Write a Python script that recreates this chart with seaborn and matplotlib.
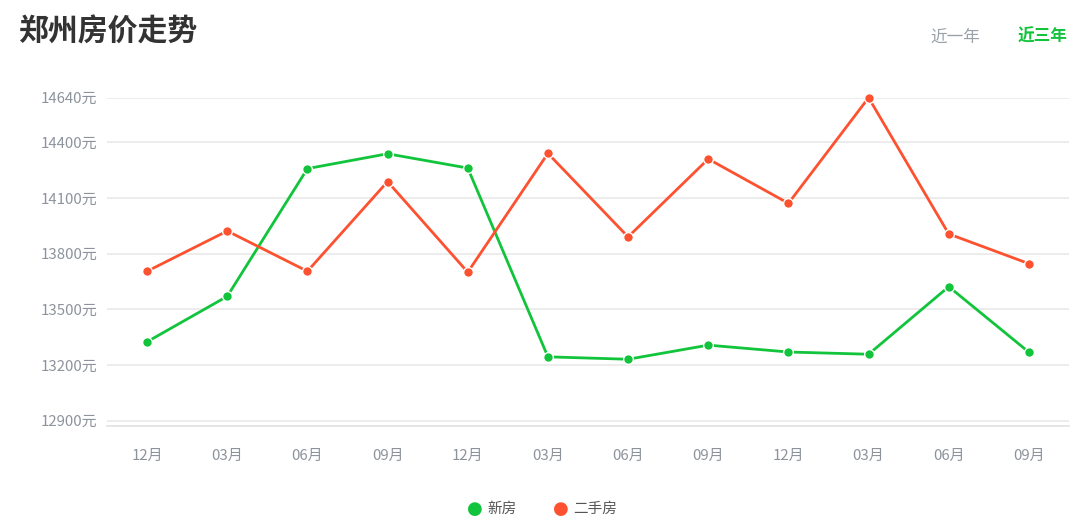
import matplotlib
matplotlib.use("Agg")
import matplotlib.pyplot as plt
import seaborn as sns
import pandas as pd

months = ["12月", "03月", "06月", "09月", "12月", "03月", "06月", "09月", "12月", "03月", "06月", "09月"]
new_house = [13325, 13570, 14258, 14338, 14261, 13244, 13231, 13307, 13270, 13258, 13622, 13269]
second_house = [13705, 13922, 13705, 14188, 13700, 14340, 13890, 14310, 14071, 14640, 13906, 13746]
y_ticks = [12900, 13200, 13500, 13800, 14100, 14400, 14640]
series_names = ["新房", "二手房"]

GREEN = "#12c43b"
RED = "#fd5130"
GRAY = "#8d939c"

sns.set_theme(style="white")
plt.rcParams["font.family"] = ["Noto Sans CJK SC", "DejaVu Sans"]

df = pd.DataFrame({
    "idx": list(range(len(months))) * 2,
    "price": new_house + second_house,
    "series": [series_names[0]] * len(months) + [series_names[1]] * len(months),
})

fig = plt.figure(figsize=(10.8, 5.22), dpi=100)
ax = fig.add_axes([107 / 1080, 1 - 425.7 / 522, (1069 - 107) / 1080, (425.7 - 97.7) / 522])

sns.lineplot(data=df, x="idx", y="price", hue="series", palette=[GREEN, RED],
             marker="o", markersize=7, markeredgecolor="white", markeredgewidth=1.0,
             linewidth=2.0, legend=False, ax=ax, clip_on=False)
for ln in ax.lines:
    ln.set_clip_on(False)

ax.set_xlim(-0.5, 11.5)
ax.set_ylim(12873, 14640)
ax.set_yticks(y_ticks)
ax.set_yticklabels([f"{v}元" for v in y_ticks])
ax.set_xticks(range(len(months)))
ax.set_xticklabels(months)
ax.set_xlabel("")
ax.set_ylabel("")
ax.grid(axis="y", color="#e9e9e9", linewidth=1.2)
ax.grid(axis="x", visible=False)
for s in ["top", "right", "left"]:
    ax.spines[s].set_visible(False)
ax.spines["bottom"].set_color("#e0e0e0")
ax.spines["bottom"].set_linewidth(1.2)
ax.tick_params(axis="y", length=0, pad=7, labelsize=10.8, labelcolor=GRAY)
ax.tick_params(axis="x", length=0, pad=17, labelsize=10.8, labelcolor=GRAY)
ax.set_axisbelow(True)

fig.text(18 / 1080, 1 - 32 / 522, "郑州房价走势", fontsize=21.5, fontweight="bold",
         color="#333333", va="center", ha="left")
fig.text(955 / 1080, 1 - 37 / 522, "近一年", fontsize=12, color="#9aa0a8", va="center", ha="center")
fig.text(1043 / 1080, 1 - 37 / 522, "近三年", fontsize=12, fontweight="bold", color=GREEN,
         va="center", ha="center")

# legend
fig.text(475 / 1080, 1 - 509 / 522, "●", fontsize=13, color=GREEN, va="center", ha="center",
         family=["DejaVu Sans"])
fig.text(487 / 1080, 1 - 509 / 522, series_names[0], fontsize=10.5, color="#555555", va="center", ha="left")
fig.text(561 / 1080, 1 - 509 / 522, "●", fontsize=13, color=RED, va="center", ha="center",
         family=["DejaVu Sans"])
fig.text(573 / 1080, 1 - 509 / 522, series_names[1], fontsize=10.5, color="#555555", va="center", ha="left")

fig.savefig("out.png", dpi=100, facecolor="white")
